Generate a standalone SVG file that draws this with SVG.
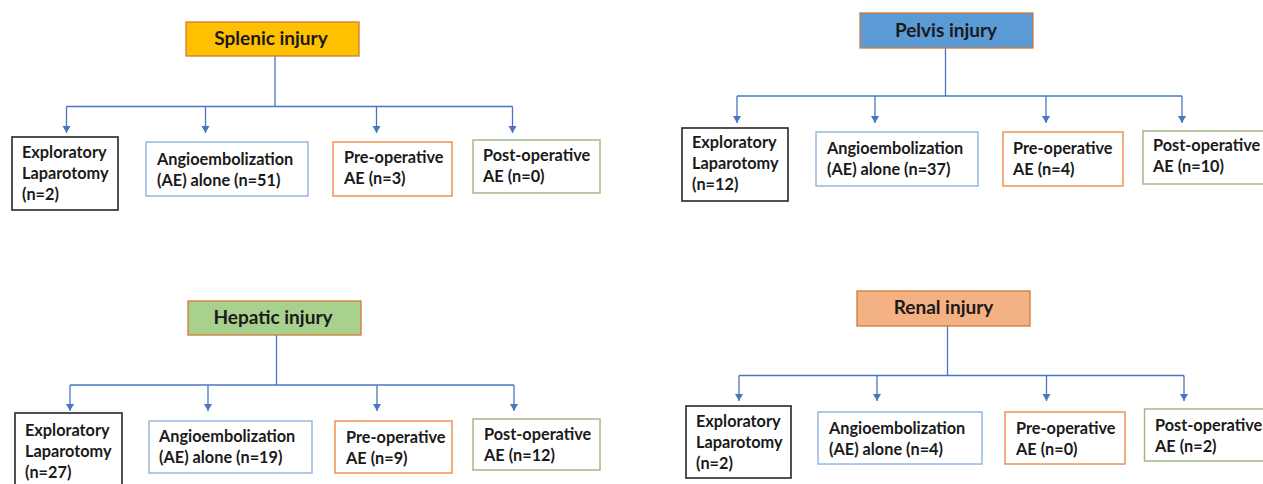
<svg xmlns="http://www.w3.org/2000/svg" width="1263" height="484" viewBox="0 0 1263 484">
<style>
  .bg { fill: #ffffff; }
  .title { stroke: #D07A35; stroke-width: 1.3; }
  .t-title { font-family: Lato, "Open Sans", "Liberation Sans", sans-serif; font-weight: 700; font-size: 19px; fill: #1a1a1a; text-anchor: middle; }
  .t { font-family: Lato, "Open Sans", "Liberation Sans", sans-serif; font-weight: 700; font-size: 16.3px; fill: #1a1a1a; }
  .box { fill: #ffffff; stroke-width: 1.4; }
  .expl { stroke: #262626; stroke-width: 1.6; }
  .angio { stroke: #8DB4DE; }
  .pre { stroke: #EE8A45; }
  .post { stroke: #9BB67E; }
  .conn line { stroke: #4A76C0; stroke-width: 1.3; fill: none; }
  .conn line.arr { marker-end: url(#ah); }
</style>
<defs>
  <marker id="ah" markerUnits="userSpaceOnUse" markerWidth="9" markerHeight="9" refX="7" refY="4" orient="auto">
    <path d="M0,0 L7,4 L0,8 z" fill="#4A76C0"/>
  </marker>
</defs>
<rect class="bg" x="0" y="0" width="1263" height="484"/>

<!-- Connectors -->
<g id="connectors" class="conn">
  <!-- Splenic -->
  <line x1="275" y1="56" x2="275" y2="106.5"/>
  <line x1="66.5" y1="106.5" x2="512.5" y2="106.5"/>
  <line class="arr" x1="66.5" y1="106.5" x2="66.5" y2="133"/>
  <line class="arr" x1="205.5" y1="106.5" x2="205.5" y2="133"/>
  <line class="arr" x1="376.5" y1="106.5" x2="376.5" y2="133"/>
  <line class="arr" x1="512.5" y1="106.5" x2="512.5" y2="133"/>
  <!-- Pelvis -->
  <line x1="945.5" y1="48" x2="945.5" y2="96"/>
  <line x1="737" y1="96" x2="1182" y2="96"/>
  <line class="arr" x1="737" y1="96" x2="737" y2="123"/>
  <line class="arr" x1="875" y1="96" x2="875" y2="123"/>
  <line class="arr" x1="1046" y1="96" x2="1046" y2="123"/>
  <line class="arr" x1="1182" y1="96" x2="1182" y2="123"/>
  <!-- Hepatic -->
  <line x1="276.5" y1="335" x2="276.5" y2="385"/>
  <line x1="70" y1="385" x2="514" y2="385"/>
  <line class="arr" x1="70" y1="385" x2="70" y2="411"/>
  <line class="arr" x1="208" y1="385" x2="208" y2="411"/>
  <line class="arr" x1="377" y1="385" x2="377" y2="411"/>
  <line class="arr" x1="514" y1="385" x2="514" y2="411"/>
  <!-- Renal -->
  <line x1="947.5" y1="326" x2="947.5" y2="375.5"/>
  <line x1="739" y1="375.5" x2="1184" y2="375.5"/>
  <line class="arr" x1="739" y1="375.5" x2="739" y2="401"/>
  <line class="arr" x1="877" y1="375.5" x2="877" y2="401"/>
  <line class="arr" x1="1046.5" y1="375.5" x2="1046.5" y2="401"/>
  <line class="arr" x1="1184" y1="375.5" x2="1184" y2="401"/>
</g>

<!-- Splenic -->
<g id="splenic-title">
  <rect class="title" x="186" y="22" width="173" height="34" fill="#FFC000"/>
  <text class="t-title" x="271" y="45">Splenic injury</text>
</g>
<g id="splenic-expl">
  <rect class="box expl" x="12" y="137" width="106" height="73"/>
  <text class="t" x="22" y="158">Exploratory</text>
  <text class="t" x="22" y="179">Laparotomy</text>
  <text class="t" x="22" y="200">(n=2)</text>
</g>
<g id="splenic-angio">
  <rect class="box angio" x="146" y="142" width="162" height="54"/>
  <text class="t" x="157" y="165">Angioembolization</text>
  <text class="t" x="157" y="186">(AE) alone (n=51)</text>
</g>
<g id="splenic-pre">
  <rect class="box pre" x="333" y="142" width="119" height="54"/>
  <text class="t" x="344" y="163">Pre-operative</text>
  <text class="t" x="344" y="184">AE (n=3)</text>
</g>
<g id="splenic-post">
  <rect class="box post" x="473" y="140" width="127" height="53"/>
  <text class="t" x="483" y="161">Post-operative</text>
  <text class="t" x="483" y="182">AE (n=0)</text>
</g>

<!-- Pelvis -->
<g id="pelvis-title">
  <rect class="title" x="860" y="13" width="173" height="35" fill="#5B9BD5"/>
  <text class="t-title" x="946" y="37">Pelvis injury</text>
</g>
<g id="pelvis-expl">
  <rect class="box expl" x="682" y="128" width="106" height="73"/>
  <text class="t" x="692" y="148">Exploratory</text>
  <text class="t" x="692" y="169">Laparotomy</text>
  <text class="t" x="692" y="190">(n=12)</text>
</g>
<g id="pelvis-angio">
  <rect class="box angio" x="816" y="132" width="162" height="54"/>
  <text class="t" x="827" y="154">Angioembolization</text>
  <text class="t" x="827" y="175">(AE) alone (n=37)</text>
</g>
<g id="pelvis-pre">
  <rect class="box pre" x="1003" y="132" width="120" height="54"/>
  <text class="t" x="1013" y="154">Pre-operative</text>
  <text class="t" x="1013" y="175">AE (n=4)</text>
</g>
<g id="pelvis-post">
  <rect class="box post" x="1143" y="131" width="130" height="53"/>
  <text class="t" x="1153" y="151">Post-operative</text>
  <text class="t" x="1153" y="172">AE (n=10)</text>
</g>

<!-- Hepatic -->
<g id="hepatic-title">
  <rect class="title" x="188" y="301" width="173" height="34" fill="#A9D18E"/>
  <text class="t-title" x="273" y="324">Hepatic injury</text>
</g>
<g id="hepatic-expl">
  <rect class="box expl" x="15" y="413" width="107" height="80"/>
  <text class="t" x="25" y="436">Exploratory</text>
  <text class="t" x="25" y="457">Laparotomy</text>
  <text class="t" x="25" y="478">(n=27)</text>
</g>
<g id="hepatic-angio">
  <rect class="box angio" x="149" y="421" width="163" height="52"/>
  <text class="t" x="159" y="442">Angioembolization</text>
  <text class="t" x="159" y="463">(AE) alone (n=19)</text>
</g>
<g id="hepatic-pre">
  <rect class="box pre" x="335" y="421" width="117" height="52"/>
  <text class="t" x="346" y="443">Pre-operative</text>
  <text class="t" x="346" y="464">AE (n=9)</text>
</g>
<g id="hepatic-post">
  <rect class="box post" x="473" y="419" width="127" height="51"/>
  <text class="t" x="484" y="440">Post-operative</text>
  <text class="t" x="484" y="461">AE (n=12)</text>
</g>

<!-- Renal -->
<g id="renal-title">
  <rect class="title" x="857" y="291" width="173" height="35" fill="#F4B183"/>
  <text class="t-title" x="943.5" y="314">Renal injury</text>
</g>
<g id="renal-expl">
  <rect class="box expl" x="686" y="406" width="105" height="72"/>
  <text class="t" x="696" y="427">Exploratory</text>
  <text class="t" x="696" y="448">Laparotomy</text>
  <text class="t" x="696" y="469">(n=2)</text>
</g>
<g id="renal-angio">
  <rect class="box angio" x="818" y="412" width="164" height="52"/>
  <text class="t" x="829" y="434">Angioembolization</text>
  <text class="t" x="829" y="455">(AE) alone (n=4)</text>
</g>
<g id="renal-pre">
  <rect class="box pre" x="1005" y="412" width="120" height="52"/>
  <text class="t" x="1016" y="434">Pre-operative</text>
  <text class="t" x="1016" y="455">AE (n=0)</text>
</g>
<g id="renal-post">
  <rect class="box post" x="1144.5" y="409" width="130" height="52"/>
  <text class="t" x="1155" y="431">Post-operative</text>
  <text class="t" x="1155" y="452">AE (n=2)</text>
</g>
</svg>
